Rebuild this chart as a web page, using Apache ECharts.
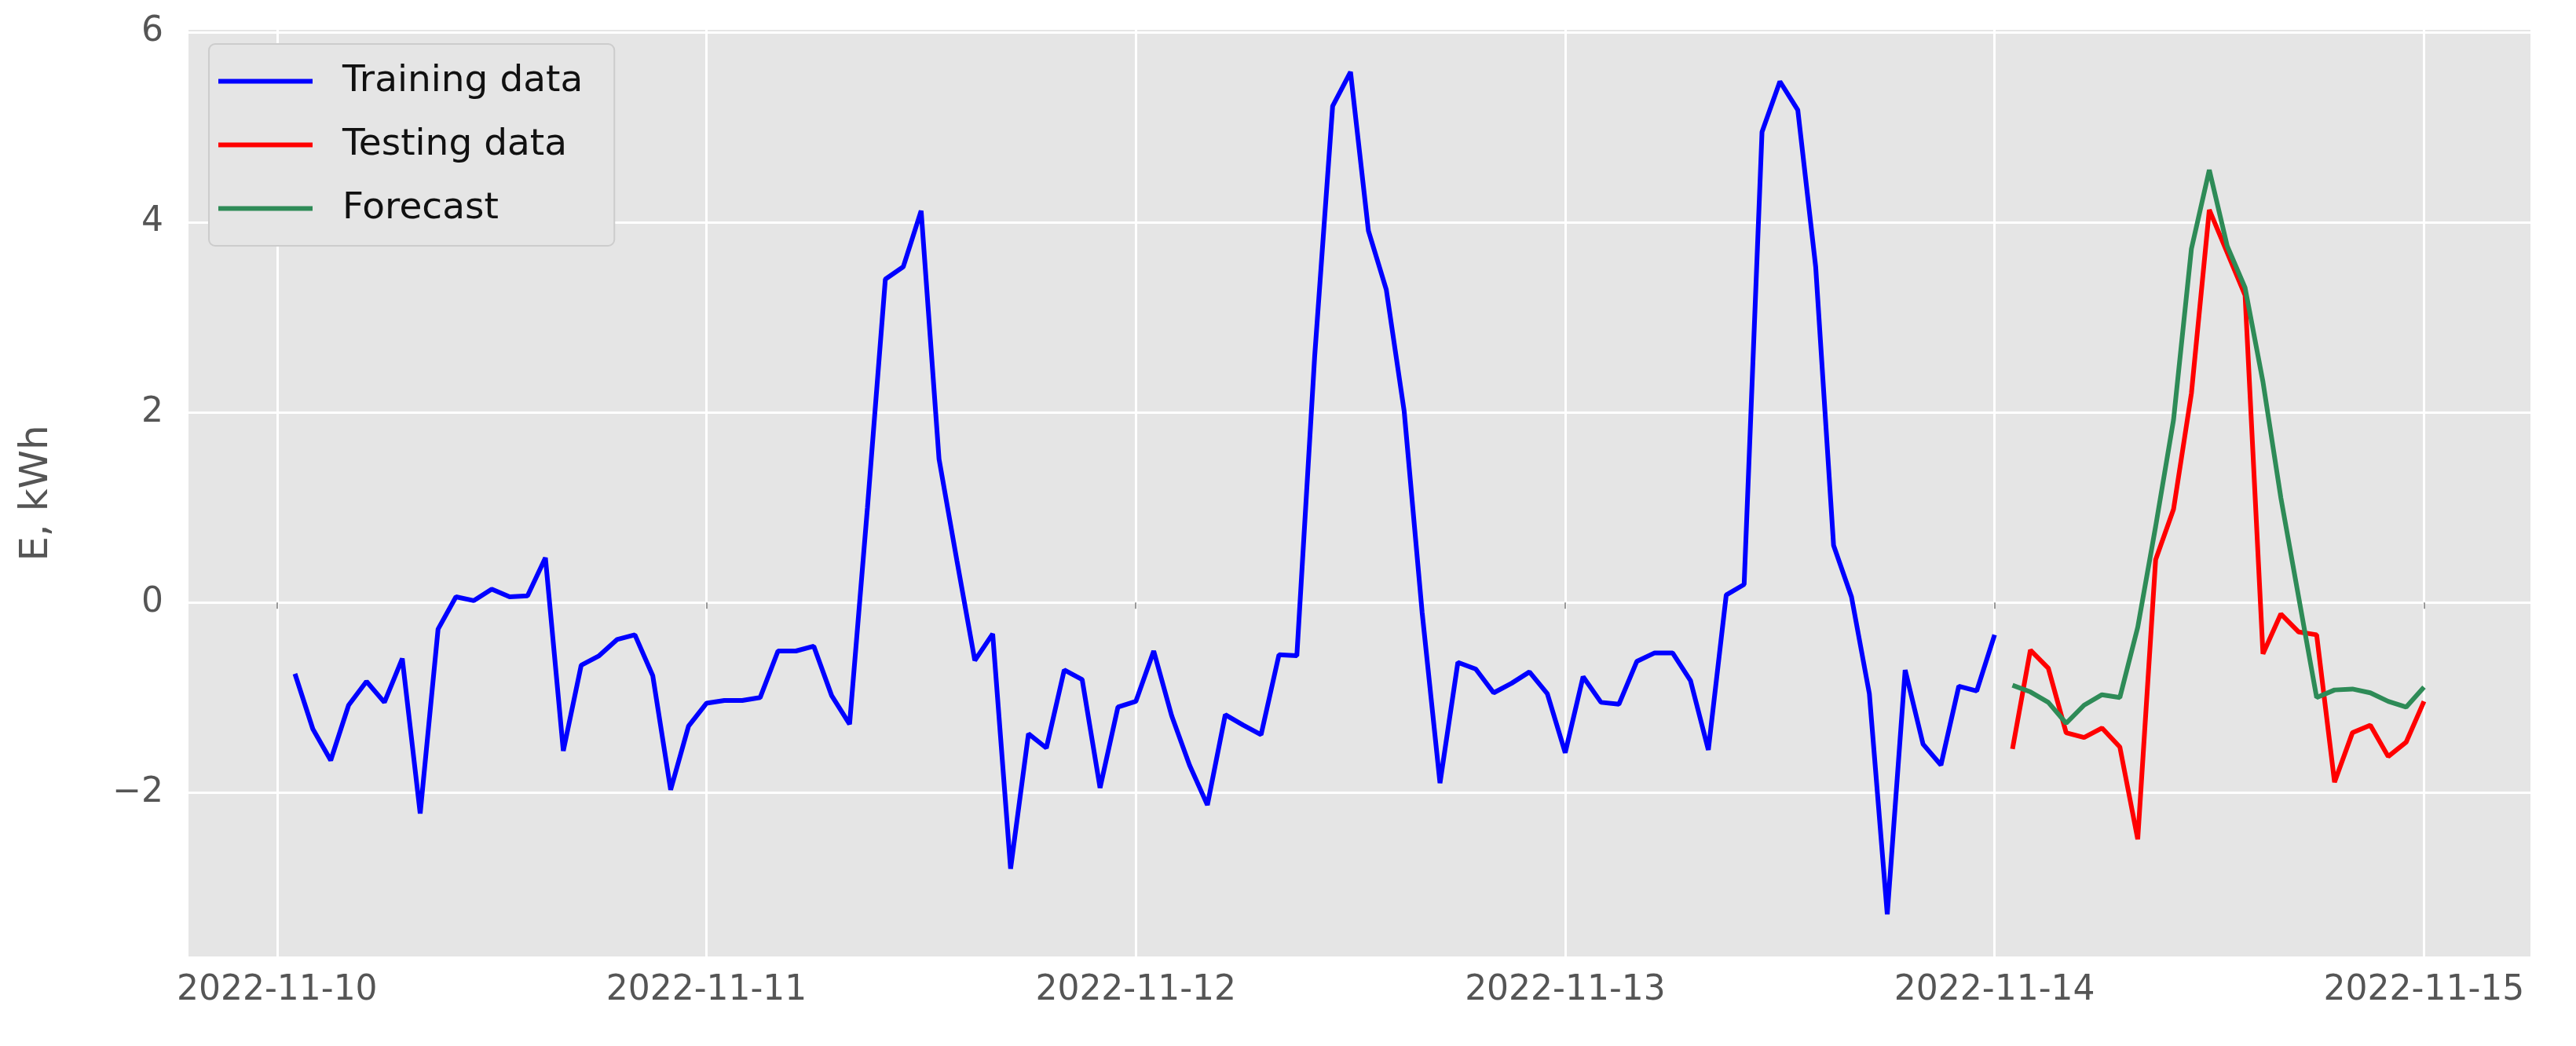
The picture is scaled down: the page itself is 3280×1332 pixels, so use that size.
<!DOCTYPE html>
<html>
<head>
<meta charset="utf-8">
<script src="https://cdn.jsdelivr.net/npm/echarts@6/dist/echarts.min.js"></script>
<style>
  html, body { margin: 0; padding: 0; background: #ffffff; }
  #chart { width: 3280px; height: 1332px; }
</style>
</head>
<body>
<div id="chart"></div>
<script>
// hourly values, hour 1 = 2022-11-10 01:00
var trainingData = [
    -0.75, -1.33, -1.66, -1.08, -0.83, -1.05, -0.59, -2.22, -0.28, 0.06, 0.02, 0.14,
    0.06, 0.07, 0.47, -1.56, -0.66, -0.56, -0.39, -0.34, -0.77, -1.97, -1.30, -1.06,
    -1.03, -1.03, -1.00, -0.51, -0.51, -0.46, -0.98, -1.28, 1.00, 3.40, 3.53, 4.12,
    1.51, 0.44, -0.61, -0.33, -2.80, -1.38, -1.53, -0.71, -0.81, -1.95, -1.10, -1.04,
    -0.51, -1.19, -1.71, -2.13, -1.18, -1.29, -1.39, -0.55, -0.56, 2.60, 5.22, 5.58,
    3.91, 3.29, 2.01, -0.10, -1.90, -0.63, -0.70, -0.95, -0.85, -0.73, -0.96, -1.58,
    -0.78, -1.05, -1.07, -0.62, -0.53, -0.53, -0.82, -1.55, 0.08, 0.19, 4.95, 5.48,
    5.18, 3.53, 0.60, 0.06, -0.96, -3.28, -0.71, -1.49, -1.71, -0.88, -0.93, -0.34
];
var testingData = [
    -1.54, -0.50, -0.69, -1.37, -1.42, -1.32, -1.52, -2.49, 0.45, 0.98, 2.20, 4.13,
    3.68, 3.23, -0.54, -0.12, -0.31, -0.34, -1.89, -1.37, -1.29, -1.62, -1.47, -1.04
];
var forecastData = [
    -0.87, -0.94, -1.05, -1.27, -1.08, -0.97, -1.00, -0.26, 0.80, 1.92, 3.72, 4.55,
    3.75, 3.31, 2.32, 1.10, 0.05, -1.00, -0.92, -0.91, -0.95, -1.04, -1.10, -0.89
];
var xTicks = [0, 24, 48, 72, 96, 120];
var yTicks = [-2, 0, 2, 4, 6];

var toPairs = function(values, startHour) {
    var list = [];
    for (var i = 0; i < values.length; i++) {
        list.push([startHour + i, values[i]]);
    }
    return list;
};

var dayLabel = function(h) {
    var d = 10 + Math.round(h / 24);
    return '2022-11-' + (d < 10 ? '0' + d : d);
};

var font = 'DejaVu Sans';
var chart = echarts.init(document.getElementById('chart'));
chart.setOption({
    backgroundColor: '#ffffff',
    animation: false,
    grid: { left: 240, right: 58, top: 38, bottom: 114, backgroundColor: '#e5e5e5', show: true, borderWidth: 0 },
    legend: {
        orient: 'vertical', left: 266, top: 56,
        padding: [24, 40, 24, 12],
        backgroundColor: '#e5e5e5', borderColor: '#cccccc', borderWidth: 2, borderRadius: 8,
        itemWidth: 120, itemHeight: 6, itemGap: 34, icon: 'rect',
        textStyle: { fontFamily: font, fontSize: 47, color: '#111111', padding: [0, 0, 0, 33] },
        data: ['Training data', 'Testing data', 'Forecast']
    },
    xAxis: {
        type: 'value', min: -4.95, max: 125.95,
        axisLine: { show: false },
        axisTick: { show: true, length: 8, lineStyle: { color: '#999999', width: 2 }, customValues: xTicks },
        axisLabel: { customValues: xTicks, fontFamily: font, fontSize: 44, color: '#555555', margin: 22, formatter: dayLabel },
        splitLine: { show: true, lineStyle: { color: '#ffffff', width: 3 } }
    },
    yAxis: {
        type: 'value', min: -3.723, max: 6.023,
        name: 'E, kWh', nameLocation: 'middle', nameGap: 168,
        nameTextStyle: { fontFamily: font, fontSize: 50, color: '#555555' },
        axisLine: { show: false },
        axisTick: { show: false, customValues: yTicks },
        axisLabel: { customValues: yTicks, fontFamily: font, fontSize: 44, color: '#555555', margin: 32,
            formatter: function(v) { return v < 0 ? '\u2212' + Math.abs(v) : String(v); } },
        splitLine: { show: true, lineStyle: { color: '#ffffff', width: 3 } }
    },
    series: [
        { name: 'Training data', type: 'line', data: toPairs(trainingData, 1), showSymbol: false,
          lineStyle: { color: '#0000ff', width: 6 }, itemStyle: { color: '#0000ff' } },
        { name: 'Testing data', type: 'line', data: toPairs(testingData, 97), showSymbol: false,
          lineStyle: { color: '#ff0000', width: 6 }, itemStyle: { color: '#ff0000' } },
        { name: 'Forecast', type: 'line', data: toPairs(forecastData, 97), showSymbol: false,
          lineStyle: { color: '#2e8b57', width: 6 }, itemStyle: { color: '#2e8b57' } }
    ]
});
</script>
</body>
</html>
